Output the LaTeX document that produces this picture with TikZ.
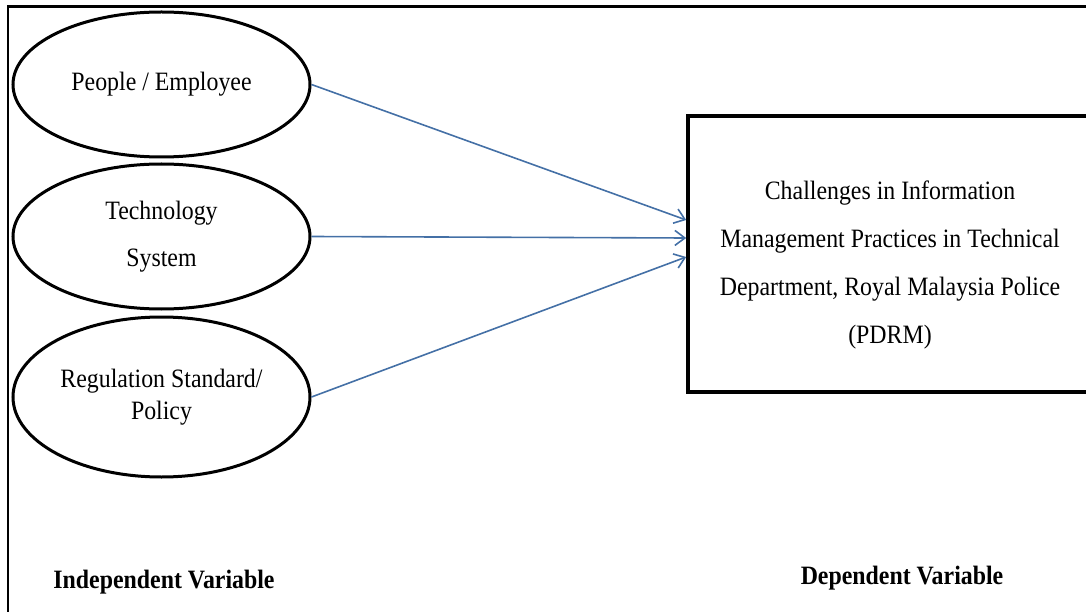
\documentclass[tikz,border=0pt]{standalone}
\usepackage{fontspec}
\setmainfont{Liberation Serif}[FakeStretch=0.9]
\usetikzlibrary{arrows.meta,shapes.geometric,positioning}

\definecolor{linkblue}{RGB}{68,112,166}

\begin{document}
\begin{tikzpicture}[x=1pt,y=-1pt,
    var/.style={ellipse,draw,line width=3pt,minimum width=297pt,
      minimum height=145pt,inner sep=0pt,align=center,
      font=\fontsize{26.5}{47}\selectfont},
    link/.style={linkblue,line width=1.6pt,
      -{Straight Barb[length=10pt,width=15pt]}},
    heading/.style={font=\fontsize{26.5}{30}\selectfont\bfseries}]
  \useasboundingbox (0,0) rectangle (1086,612);
  \clip (0,0) rectangle (1086,612);
  % open frame round the model
  \draw[line width=2.2pt] (8,620) -- (8,6.5) -- (1100,6.5);

  % independent variables
  \node[var] (people) at (161.5,84.5) {People / Employee};
  \node[var] (tech) at (161.5,236.5) {Technology\\System};
  \node[var,minimum height=160pt,font=\fontsize{26.5}{32}\selectfont]
    (policy) at (161.5,397) {Regulation Standard/\\Policy};

  % dependent variable
  \node[draw,line width=3.6pt,minimum width=406pt,minimum height=276pt]
    (dv) at (891,254) {};
  \node[align=center,font=\fontsize{26.5}{48}\selectfont] (dvtext)
    at (890,265) {Challenges in Information\\
    Management Practices in Technical\\
    Department, Royal Malaysia Police\\(PDRM)};

  \draw[link] (people.east) -- ([yshift=34pt]dv.west);
  \draw[link] (tech.east) -- ([yshift=16pt]dv.west);
  \draw[link] (policy.east) -- ([yshift=-3pt]dv.west);

  \node[heading] (ivlabel) at (164,582) {Independent Variable};
  \node[heading] (dvlabel) at (902,578) {Dependent Variable};
\end{tikzpicture}
\end{document}
